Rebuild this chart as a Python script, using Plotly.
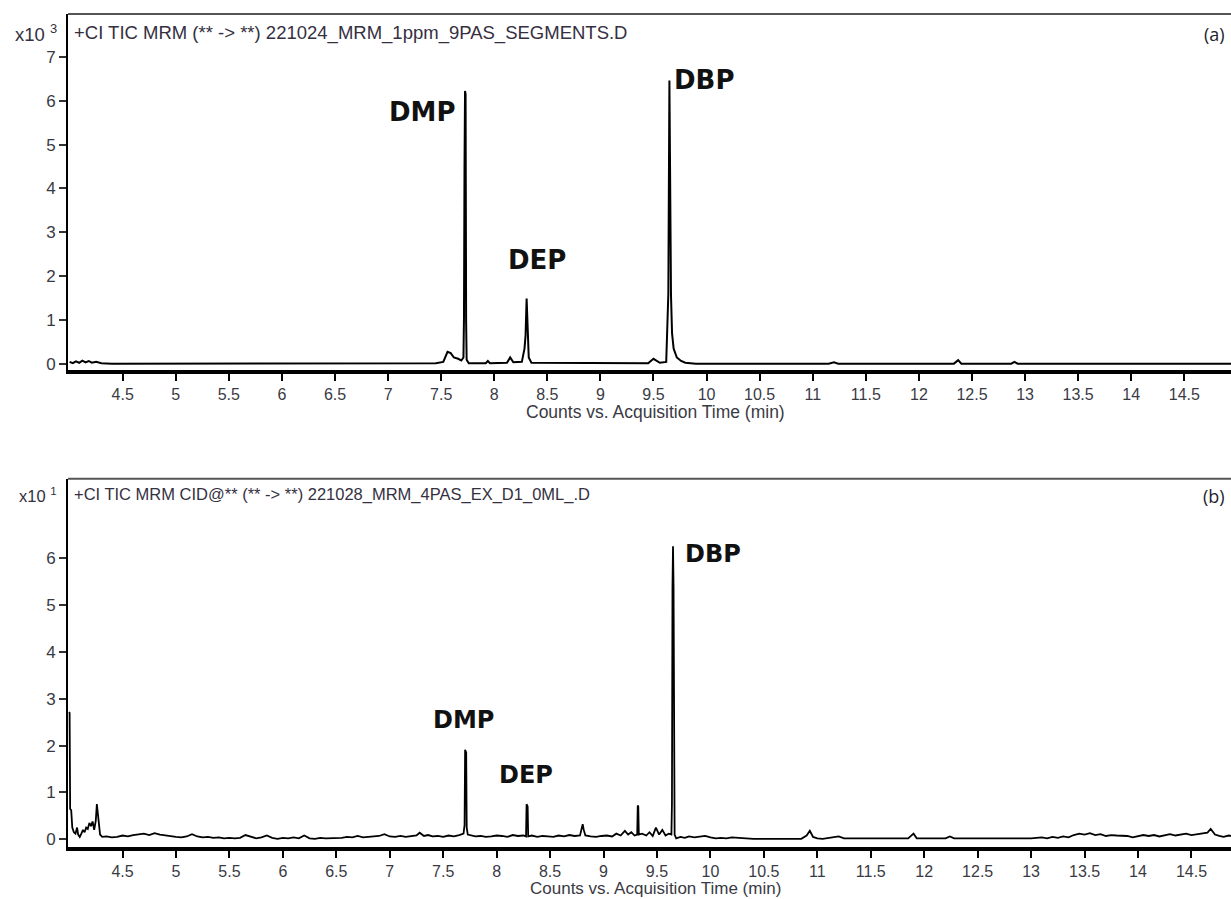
import plotly.graph_objects as go

# ---------------- data ----------------
# (a) 1 ppm standard, intensity in units of x10^3 counts
time_a = [4.00, 4.03, 4.06, 4.09, 4.12, 4.15, 4.18, 4.21, 4.25, 4.30, 4.40, 5.0, 6.0, 7.0,
          7.45, 7.52, 7.56, 7.59, 7.62, 7.66, 7.69, 7.71, 7.715, 7.72, 7.725, 7.73, 7.735, 7.74, 7.76,
          7.92, 7.94, 7.96, 8.12, 8.15, 8.18, 8.26, 8.285, 8.295, 8.305, 8.315, 8.325, 8.35,
          9.45, 9.50, 9.53, 9.56, 9.62, 9.64, 9.65, 9.655, 9.66, 9.665, 9.675, 9.69, 9.72, 9.76, 9.80, 9.90,
          11.15, 11.20, 11.24, 12.33, 12.37, 12.40, 12.87, 12.90, 12.93, 14.95]
int_a = [0.05, 0.02, 0.06, 0.03, 0.08, 0.04, 0.07, 0.03, 0.05, 0.02, 0.01, 0.01, 0.01, 0.01,
         0.02, 0.05, 0.28, 0.25, 0.15, 0.12, 0.08, 0.15, 1.05, 4.50, 6.22, 6.15, 1.00, 0.10, 0.02,
         0.02, 0.07, 0.02, 0.03, 0.15, 0.04, 0.05, 0.35, 0.65, 1.49, 0.60, 0.15, 0.03,
         0.02, 0.12, 0.08, 0.03, 0.05, 1.60, 6.46, 4.78, 4.70, 1.56, 0.70, 0.35, 0.15, 0.07, 0.03, 0.01,
         0.01, 0.04, 0.01, 0.01, 0.09, 0.01, 0.01, 0.05, 0.01, 0.01]

# (b) sample extract, intensity in units of x10^1 counts
time_b = [4.000, 4.005, 4.010, 4.020, 4.030, 4.045, 4.060, 4.075, 4.085, 4.100, 4.115, 4.130, 4.145,
          4.160, 4.175, 4.190, 4.205, 4.220, 4.235, 4.250, 4.260, 4.270, 4.280, 4.290, 4.310,
          4.35, 4.40, 4.45, 4.50, 4.55, 4.60, 4.65, 4.70, 4.75, 4.80, 4.85, 4.90, 4.95, 5.00,
          5.05, 5.10, 5.15, 5.20, 5.25, 5.30, 5.35, 5.40, 5.45, 5.50, 5.55, 5.60, 5.65, 5.70,
          5.75, 5.80, 5.85, 5.90, 5.95, 6.00, 6.05, 6.10, 6.15, 6.20, 6.25, 6.30, 6.35, 6.40,
          6.45, 6.50, 6.55, 6.60, 6.65, 6.70, 6.75, 6.80, 6.85, 6.90, 6.95, 7.00, 7.05, 7.10,
          7.15, 7.20, 7.25, 7.28, 7.32, 7.36, 7.40, 7.45, 7.50, 7.55, 7.60, 7.65, 7.69,
          7.700, 7.705, 7.715, 7.720, 7.73, 7.76, 7.80, 7.85, 7.90, 7.95, 8.00, 8.05, 8.10,
          8.15, 8.20, 8.25, 8.275, 8.280, 8.290, 8.295, 8.33, 8.38, 8.43, 8.48, 8.53, 8.58,
          8.63, 8.68, 8.73, 8.78, 8.805, 8.815, 8.83, 8.88, 8.93, 8.98, 9.03, 9.08, 9.12,
          9.16, 9.20, 9.23, 9.26, 9.29, 9.315, 9.320, 9.325, 9.330, 9.36, 9.40, 9.43, 9.46,
          9.49, 9.52, 9.55, 9.58, 9.61, 9.635, 9.640, 9.645, 9.650, 9.655, 9.660, 9.665,
          9.68, 9.72, 9.76, 9.80, 9.85, 9.90, 9.95, 10.00, 10.05, 10.10, 10.15, 10.20, 10.25,
          10.30, 10.40, 10.60, 10.85, 10.90, 10.93, 10.96, 11.00, 11.05, 11.20, 11.25, 11.40,
          11.60, 11.85, 11.90, 11.93, 12.20, 12.24, 12.28, 13.00, 13.10, 13.15, 13.20, 13.25,
          13.30, 13.35, 13.40, 13.45, 13.50, 13.55, 13.60, 13.65, 13.70, 13.75, 13.80, 13.85,
          13.90, 13.95, 14.00, 14.05, 14.10, 14.15, 14.20, 14.25, 14.30, 14.35, 14.40, 14.45,
          14.50, 14.55, 14.60, 14.65, 14.68, 14.72, 14.76, 14.80, 14.85, 14.90]
int_b = [2.72, 2.70, 0.65, 0.62, 0.25, 0.15, 0.12, 0.25, 0.10, 0.05, 0.12, 0.20, 0.15,
         0.25, 0.22, 0.35, 0.28, 0.38, 0.20, 0.40, 0.75, 0.55, 0.30, 0.10, 0.05,
         0.06, 0.04, 0.05, 0.08, 0.06, 0.09, 0.10, 0.12, 0.09, 0.13, 0.10, 0.08, 0.06, 0.05,
         0.04, 0.06, 0.11, 0.06, 0.04, 0.05, 0.03, 0.04, 0.02, 0.03, 0.02, 0.03, 0.09, 0.05,
         0.02, 0.04, 0.08, 0.03, 0.01, 0.03, 0.02, 0.04, 0.02, 0.08, 0.02, 0.01, 0.03, 0.02,
         0.02, 0.02, 0.03, 0.05, 0.04, 0.07, 0.04, 0.05, 0.06, 0.07, 0.11, 0.06, 0.05, 0.07,
         0.05, 0.06, 0.08, 0.14, 0.07, 0.09, 0.06, 0.07, 0.05, 0.08, 0.06, 0.09, 0.12,
         0.30, 1.91, 1.85, 0.25, 0.10, 0.08, 0.06, 0.07, 0.05, 0.06, 0.08, 0.07, 0.05,
         0.09, 0.07, 0.08, 0.06, 0.75, 0.70, 0.06, 0.08, 0.05, 0.07, 0.06, 0.05, 0.08,
         0.06, 0.09, 0.07, 0.08, 0.32, 0.20, 0.08, 0.06, 0.05, 0.07, 0.08, 0.06, 0.12,
         0.08, 0.18, 0.10, 0.15, 0.08, 0.10, 0.72, 0.70, 0.10, 0.12, 0.08, 0.15, 0.07,
         0.25, 0.10, 0.20, 0.08, 0.12, 0.10, 0.77, 5.38, 6.26, 5.38, 0.77, 0.10,
         0.02, 0.05, 0.03, 0.06, 0.04, 0.05, 0.07, 0.04, 0.02, 0.03, 0.02, 0.04, 0.03,
         0.02, 0.01, 0.01, 0.01, 0.08, 0.18, 0.05, 0.02, 0.01, 0.06, 0.02, 0.02,
         0.02, 0.02, 0.12, 0.02, 0.02, 0.06, 0.02, 0.02, 0.04, 0.02, 0.05, 0.03,
         0.06, 0.04, 0.09, 0.12, 0.10, 0.13, 0.09, 0.11, 0.07, 0.09, 0.08, 0.07,
         0.07, 0.04, 0.06, 0.09, 0.07, 0.09, 0.06, 0.08, 0.11, 0.08, 0.10, 0.12,
         0.09, 0.11, 0.12, 0.14, 0.22, 0.10, 0.07, 0.05, 0.08, 0.06]

x_tickvals = [4.5, 5, 5.5, 6, 6.5, 7, 7.5, 8, 8.5, 9, 9.5, 10, 10.5, 11, 11.5, 12, 12.5, 13, 13.5, 14, 14.5]
x_ticktext = ["4.5", "5", "5.5", "6", "6.5", "7", "7.5", "8", "8.5", "9", "9.5", "10", "10.5",
              "11", "11.5", "12", "12.5", "13", "13.5", "14", "14.5"]
y_ticks_a = [0, 1, 2, 3, 4, 5, 6, 7]
y_ticks_b = [0, 1, 2, 3, 4, 5, 6]

peak_names = ["DMP", "DEP", "DBP"]
label_pos_a = [(7.32, 5.75), (8.40, 2.37), (9.98, 6.46)]
label_pos_b = [(7.69, 2.55), (8.27, 1.38), (10.02, 6.09)]

title_a = "+CI TIC MRM (** -> **) 221024_MRM_1ppm_9PAS_SEGMENTS.D"
title_b = "+CI TIC MRM CID@** (** -> **) 221028_MRM_4PAS_EX_D1_0ML_.D"
xlabel = "Counts vs. Acquisition Time (min)"

# ---------------- figure ----------------
W, H = 1231, 899


def px(x):
    return x / W


def py(y):
    return 1 - y / H


fig = go.Figure()
fig.add_trace(go.Scatter(x=time_a, y=int_a, mode="lines", line=dict(color="black", width=2),
                         xaxis="x", yaxis="y", showlegend=False, hoverinfo="skip"))
fig.add_trace(go.Scatter(x=time_b, y=int_b, mode="lines", line=dict(color="black", width=1.8),
                         xaxis="x2", yaxis="y2", showlegend=False, hoverinfo="skip"))

FAM = "Liberation Sans, Arial, sans-serif"
GREY = "#3a3a44"


def xcommon(size):
    return dict(tickmode="array", tickvals=x_tickvals, ticktext=x_ticktext, ticks="outside",
                ticklen=7, tickwidth=2, tickcolor="black", showline=True, linecolor="black",
                linewidth=3.5, showgrid=False, zeroline=False,
                tickfont=dict(family=FAM, size=size, color=GREY), fixedrange=True)


def ycommon(size):
    return dict(tickmode="array", ticks="outside", ticklen=7, tickwidth=1.5, tickcolor="#333",
                showline=True, linecolor="black", linewidth=2, showgrid=False, zeroline=False,
                tickfont=dict(family=FAM, size=size, color=GREY), fixedrange=True)


x0 = px(68)
fig.update_layout(
    width=W, height=H,
    margin=dict(l=0, r=0, t=0, b=0),
    paper_bgcolor="white", plot_bgcolor="white",
    xaxis=dict(domain=[x0, 1], range=[3.985, 14.94], anchor="y", **xcommon(16)),
    yaxis=dict(domain=[py(372), py(14)], range=[-0.143, 7.975], anchor="x",
               tickvals=y_ticks_a, ticktext=[str(v) for v in y_ticks_a], **ycommon(17)),
    xaxis2=dict(domain=[x0, 1], range=[3.99, 14.87], anchor="y2", **xcommon(16)),
    yaxis2=dict(domain=[py(851), py(481)], range=[-0.17, 7.70], anchor="x2",
                tickvals=y_ticks_b, ticktext=[str(v) for v in y_ticks_b], **ycommon(17)),
)

# top borders of the two boxes
for ytop in (14, 481):
    fig.add_shape(type="line", xref="paper", yref="paper", x0=x0, x1=1, y0=py(ytop), y1=py(ytop),
                  line=dict(color="#555555", width=2))

ann = []
for ytxt, title, mult, tag, fs in ((33, title_a, "3", "(a)", 18.5), (497, title_b, "1", "(b)", 16.5)):
    tf = dict(family=FAM, size=fs, color="#35303f")
    ann.append(dict(x=px(72), y=py(ytxt), xref="paper", yref="paper", text=title, showarrow=False,
                    xanchor="left", yanchor="middle", font=tf))
    ann.append(dict(x=px(59), y=py(ytxt), xref="paper", yref="paper",
                    text="x10 <sup>" + mult + "</sup>", showarrow=False,
                    xanchor="right", yanchor="middle", font=tf))
    ann.append(dict(x=px(1227), y=py(ytxt + 1), xref="paper", yref="paper", text=tag,
                    showarrow=False, xanchor="right", yanchor="middle",
                    font=dict(family="Open Sans, sans-serif", size=18, color="#1e1e2e")))

for ylab, fsz in ((414, 17.5), (892, 17)):
    ann.append(dict(x=px(655), y=py(ylab), xref="paper", yref="paper", text=xlabel,
                    showarrow=False, xanchor="center", yanchor="middle",
                    font=dict(family=FAM, size=fsz, color=GREY)))

for name, (lx, ly) in zip(peak_names, label_pos_a):
    ann.append(dict(x=lx, y=ly, xref="x", yref="y", text=name, showarrow=False,
                    xanchor="center", yanchor="middle",
                    font=dict(family="DejaVu Sans, sans-serif", size=26, color="#111111",
                              weight="bold")))
for name, (lx, ly) in zip(peak_names, label_pos_b):
    ann.append(dict(x=lx, y=ly, xref="x2", yref="y2", text=name, showarrow=False,
                    xanchor="center", yanchor="middle",
                    font=dict(family="DejaVu Sans, sans-serif", size=24, color="#111111",
                              weight="bold")))

fig.update_layout(annotations=ann)

fig.write_html("out.html", config={"displayModeBar": False})
